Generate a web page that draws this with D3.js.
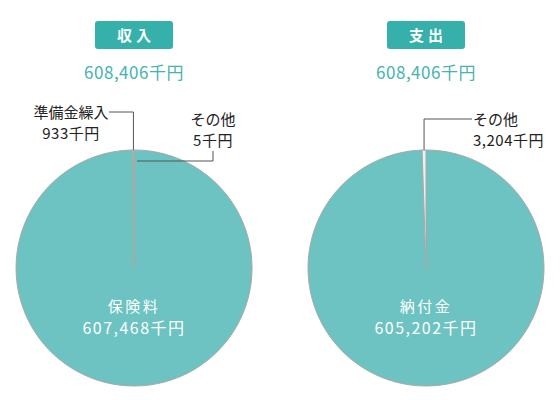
<!DOCTYPE html>
<html>
<head>
<meta charset="utf-8">
<script src="https://cdn.jsdelivr.net/npm/d3@7"></script>
<style>
  body { margin: 0; background: #fff; }
  svg { display: block; font-family: "Noto Sans CJK JP", "Noto Sans", sans-serif; }
</style>
</head>
<body>
<div id="chart"></div>
<script>
// 収入
const incomeLabels = ["保険料", "準備金繰入", "その他"];
const incomeValues = [607468, 933, 5];
// 支出
const expenseLabels = ["納付金", "その他"];
const expenseValues = [605202, 3204];

const titles = ["収入", "支出"];

const width = 560, height = 400;
const radius = 118;
const mainColor = "#6cc3c1";
const fmt = d3.format(",");

const svg = d3.select("#chart").append("svg")
  .attr("width", width)
  .attr("height", height);

const arcGen = d3.arc().innerRadius(0).outerRadius(radius);
const pieGen = d3.pie().sort(null).value(d => d.value);

// point on the rim at the middle of a slice
const rimPoint = (d, cx, cy) => {
  const a = (d.startAngle + d.endAngle) / 2;
  return [cx + radius * Math.sin(a), cy - radius * Math.cos(a)];
};

function drawPie(cx, title, labels, values, sliceColors) {
  const data = labels.map((l, i) => ({ label: l, value: values[i] }));
  const g = svg.append("g");

  // header box
  g.append("rect")
    .attr("x", cx - 39).attr("y", 21)
    .attr("width", 78).attr("height", 28)
    .attr("rx", 3)
    .attr("fill", "#35b0ab");
  g.append("text")
    .attr("x", cx + 2).attr("y", 41)
    .attr("text-anchor", "middle")
    .attr("fill", "#fff")
    .style("font-size", "15px")
    .style("font-weight", "bold")
    .style("letter-spacing", "4px")
    .text(title);

  g.append("text")
    .attr("x", cx).attr("y", 79)
    .attr("text-anchor", "middle")
    .attr("fill", "#45b3af")
    .style("font-size", "17px")
    .style("letter-spacing", "0.5px")
    .text(fmt(d3.sum(values)) + "千円");

  const cy = 268;
  const pg = g.append("g").attr("transform", `translate(${cx},${cy})`);
  const arcs = pieGen(data);
  pg.selectAll("path").data(arcs).enter().append("path")
    .attr("d", arcGen)
    .attr("fill", (d, i) => sliceColors[i])
    .attr("stroke", "#a8a8a8")
    .attr("stroke-width", 1);

  // inner label for the big slice
  const big = arcs[0];
  pg.append("text")
    .attr("x", 0).attr("y", 44)
    .attr("text-anchor", "middle")
    .attr("fill", "#fff")
    .style("font-size", "15px")
    .style("letter-spacing", "2.5px")
    .text(big.data.label);
  pg.append("text")
    .attr("x", 0).attr("y", 66)
    .attr("text-anchor", "middle")
    .attr("fill", "#fff")
    .style("font-size", "16px")
    .style("letter-spacing", "1.5px")
    .text(fmt(big.data.value) + "千円");

  return { arcs, cy };
}

function leader(points) {
  svg.append("path")
    .attr("d", d3.line()(points))
    .attr("fill", "none")
    .attr("stroke", "#555")
    .attr("stroke-width", 1);
}

function label(x, y, anchor, name, value) {
  svg.append("text")
    .attr("x", x).attr("y", y)
    .attr("text-anchor", anchor)
    .attr("fill", "#222")
    .style("font-size", "15px")
    .text(name);
  svg.append("text")
    .attr("x", x).attr("y", y + 21)
    .attr("text-anchor", anchor)
    .attr("fill", "#222")
    .style("font-size", "15px")
    .style("letter-spacing", "0.5px")
    .text(fmt(value) + "千円");
}

// left pie
const leftCx = 134;
const left = drawPie(leftCx, titles[0], incomeLabels, incomeValues, [mainColor, "#d9eeee", "#e8f4f4"]);
{
  const p1 = rimPoint(left.arcs[1], leftCx, left.cy);
  leader([[p1[0], p1[1]], [p1[0], 112], [109, 112]]);
  label(71, 118, "middle", incomeLabels[1], incomeValues[1]);

  const p2 = rimPoint(left.arcs[2], leftCx, left.cy);
  leader([[p2[0] + 3, p2[1] + 11], [213, p2[1] + 11], [213, 151]]);
  label(213, 125, "middle", incomeLabels[2], incomeValues[2]);
}

// right pie
const rightCx = 426;
const right = drawPie(rightCx, titles[1], expenseLabels, expenseValues, [mainColor, "#e8f4f4"]);
{
  const p = rimPoint(right.arcs[1], rightCx, right.cy);
  leader([[p[0], p[1]], [p[0], 119], [472, 119]]);
  label(473, 125, "start", expenseLabels[1], expenseValues[1]);
}
</script>
</body>
</html>
